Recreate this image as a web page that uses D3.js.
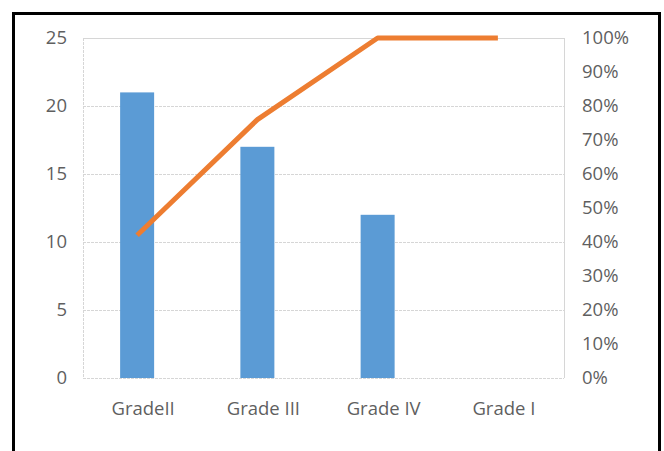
<!DOCTYPE html>
<html><head><meta charset="utf-8">
<script src="https://cdn.jsdelivr.net/npm/d3@7"></script>
<style>body{margin:0;background:#fff}svg{display:block}</style>
</head><body>
<script>
const categories = ["GradeII", "Grade III", "Grade IV", "Grade I"];
const counts = [21, 17, 12, 0];
const cumulativePct = [0.42, 0.76, 1.0, 1.0];
const leftTicks = [0, 5, 10, 15, 20, 25];
const rightTicks = [0, 0.1, 0.2, 0.3, 0.4, 0.5, 0.6, 0.7, 0.8, 0.9, 1.0];

const W = 664, H = 451;
const svg = d3.select("body").append("svg").attr("width", W).attr("height", H);
svg.append("rect").attr("x", 13.5).attr("y", 13.5).attr("width", 646).attr("height", 460)
  .attr("fill", "#fff").attr("stroke", "#000").attr("stroke-width", 3);

const L = 83, R = 564, T = 38, B = 378;
const x = d3.scaleBand().domain(categories).range([L, R]).paddingInner(0).paddingOuter(0);
const markShift = -6;
const yL = d3.scaleLinear().domain([0, 25]).range([B, T]);
const yR = d3.scaleLinear().domain([0, 1]).range([B, T]);
const font = "'Open Sans', sans-serif";
const txt = "#5f5f5f";

// gridlines
const grid = svg.append("g").attr("class", "grid");
grid.selectAll("line").data(leftTicks).join("line")
  .attr("x1", L).attr("x2", R)
  .attr("y1", d => Math.round(yL(d)) + 0.5).attr("y2", d => Math.round(yL(d)) + 0.5)
  .attr("stroke", "#d6d6d6").attr("stroke-width", 1)
  .attr("stroke-dasharray", d => d === 25 ? null : "3,1");
grid.append("line").attr("x1", L + 0.5).attr("x2", L + 0.5).attr("y1", T).attr("y2", B)
  .attr("stroke", "#d6d6d6").attr("stroke-dasharray", "3,1");
grid.append("line").attr("x1", R + 0.5).attr("x2", R + 0.5).attr("y1", T).attr("y2", B)
  .attr("stroke", "#d6d6d6");

// bars
const barW = 34;
svg.append("g").selectAll("rect").data(counts).join("rect")
  .attr("x", (d, i) => x(categories[i]) + x.bandwidth() / 2 + markShift - barW / 2)
  .attr("width", barW)
  .attr("y", d => yL(d))
  .attr("height", d => B - yL(d))
  .attr("fill", "#5B9BD5");

// line
const line = d3.line()
  .x((d, i) => x(categories[i]) + x.bandwidth() / 2 + markShift)
  .y(d => yR(d));
svg.append("path").datum(cumulativePct).attr("d", line)
  .attr("fill", "none").attr("stroke", "#ED7D31").attr("stroke-width", 5)
  .attr("stroke-linejoin", "round");

// left axis
const axL = d3.axisLeft(yL).tickValues(leftTicks).tickSize(0).tickPadding(16);
const gL = svg.append("g").attr("transform", `translate(${L},0)`).call(axL);
// right axis
const axR = d3.axisRight(yR).tickValues(rightTicks).tickSize(0).tickPadding(18).tickFormat(d3.format(".0%"));
const gR = svg.append("g").attr("transform", `translate(${R},0)`).call(axR);
// bottom axis
const axB = d3.axisBottom(x).tickSize(0).tickPadding(24);
const gB = svg.append("g").attr("transform", `translate(0,${B})`).call(axB);

[gL, gR, gB].forEach(g => {
  g.select(".domain").remove();
  g.selectAll("text").attr("fill", txt).style("font-family", font).style("font-size", "18.5px");
});
</script>
</body></html>
